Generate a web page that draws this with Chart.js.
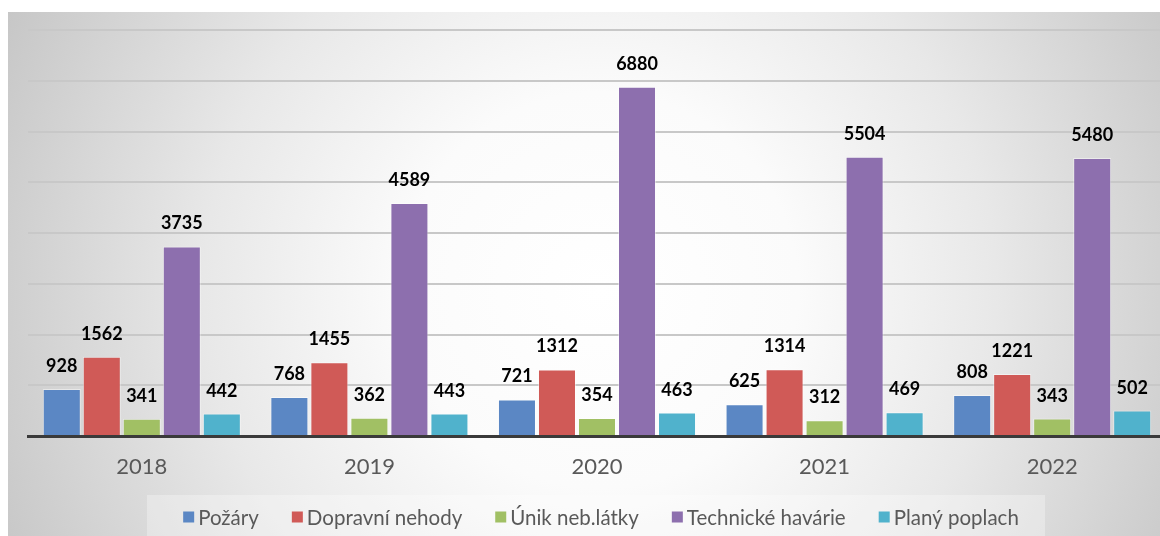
<!DOCTYPE html>
<html>
<head>
<meta charset="utf-8">
<script src="https://cdn.jsdelivr.net/npm/chart.js@4.4.1/dist/chart.umd.min.js"></script>
<style>
  html, body { margin: 0; padding: 0; background: #ffffff; overflow: hidden; width: 1160px; height: 536px; }
  #wrap { position: absolute; left: 0; top: 0; width: 1166px; height: 536px; }
</style>
</head>
<body>
<div id="wrap"><canvas id="c" width="1166" height="536"></canvas></div>
<script>
// ---- data ----
const categories = ['2018', '2019', '2020', '2021', '2022'];
const seriesNames = ['Požáry', 'Dopravní nehody', 'Únik neb.látky', 'Technické havárie', 'Planý poplach'];
const pozary = [928, 768, 721, 625, 808];
const dopravniNehody = [1562, 1455, 1312, 1314, 1221];
const unikLatky = [341, 362, 354, 312, 343];
const technickeHavarie = [3735, 4589, 6880, 5504, 5480];
const planyPoplach = [442, 443, 463, 469, 502];
const yMax = 8000;
const yStep = 1000;

const seriesValues = [pozary, dopravniNehody, unikLatky, technickeHavarie, planyPoplach];
const seriesColors = ['#5b87c4', '#d05a57', '#a1c064', '#8d6fae', '#50b2cc'];

const bgPlugin = {
  id: 'bg',
  beforeDraw(chart) {
    const ctx = chart.ctx;
    const W = chart.width, H = chart.height;
    ctx.save();
    ctx.fillStyle = '#ffffff';
    ctx.fillRect(0, 0, W, H);
    const g = ctx.createRadialGradient(600, 290, 0, 600, 290, 660);
    g.addColorStop(0, '#ffffff');
    g.addColorStop(0.3, '#fbfbfb');
    g.addColorStop(0.6, '#e8e8e8');
    g.addColorStop(1, '#c6c6c6');
    ctx.fillStyle = g;
    ctx.fillRect(8, 12, W - 8, H - 12);
    // legend panel
    ctx.fillStyle = 'rgba(255,255,255,0.3)';
    ctx.fillRect(147, 495, 898, 50);
    ctx.restore();
  }
};

const labelPlugin = {
  id: 'vals',
  afterDatasetsDraw(chart) {
    const ctx = chart.ctx;
    ctx.save();
    ctx.font = 'bold 18px Lato';
    ctx.fillStyle = '#000000';
    ctx.textAlign = 'center';
    ctx.textBaseline = 'alphabetic';
    chart.data.datasets.forEach((ds, i) => {
      const meta = chart.getDatasetMeta(i);
      meta.data.forEach((bar, j) => {
        ctx.fillText(String(ds.data[j]), bar.x, bar.y - 17);
      });
    });
    ctx.restore();
  }
};

const legendPlugin = {
  id: 'customLegend',
  afterDraw(chart) {
    const ctx = chart.ctx;
    ctx.save();
    ctx.font = '20.5px Lato';
    ctx.textBaseline = 'middle';
    ctx.textAlign = 'left';
    const box = 11, gapBox = 4, gapItem = 33;
    const widths = chart.data.datasets.map(ds => ctx.measureText(ds.label).width);
    let total = 0;
    widths.forEach((w, i) => { total += box + gapBox + w + (i < widths.length - 1 ? gapItem : 0); });
    let x = 601 - total / 2;
    const y = 517;
    chart.data.datasets.forEach((ds, i) => {
      ctx.fillStyle = ds.backgroundColor;
      ctx.fillRect(x, y - box / 2, box, box);
      x += box + gapBox;
      ctx.fillStyle = '#595959';
      ctx.fillText(ds.label, x, y + 1);
      x += widths[i] + gapItem;
    });
    ctx.restore();
  }
};

const datasets = seriesNames.map((name, i) => ({
  label: name,
  data: seriesValues[i],
  backgroundColor: seriesColors[i],
  borderColor: 'rgba(255,255,255,0.45)',
  borderWidth: 1,
  categoryPercentage: 0.879,
  barPercentage: 0.95
}));

new Chart(document.getElementById('c'), {
  type: 'bar',
  data: { labels: categories, datasets },
  options: {
    responsive: false,
    animation: false,
    events: [],
    layout: { padding: { left: 28, right: 0, top: 30, bottom: 40 } },
    plugins: {
      legend: { display: false },
      tooltip: { enabled: false }
    },
    scales: {
      x: {
        grid: { display: false, drawTicks: false },
        border: { display: true, color: '#3a3a3a', width: 3 },
        ticks: { color: '#595959', font: { family: 'Lato', size: 22 }, padding: 18 },
        afterFit(scale) { scale.height = 60; }
      },
      y: {
        min: 0,
        max: yMax,
        ticks: { display: false, stepSize: yStep },
        border: { display: false },
        grid: {
          drawTicks: false,
          color: (c) => (c.tick && c.tick.value === 0 ? 'rgba(0,0,0,0)' : '#c8c8c8'),
          lineWidth: 2
        }
      }
    }
  },
  plugins: [bgPlugin, labelPlugin, legendPlugin]
});
</script>
</body>
</html>
